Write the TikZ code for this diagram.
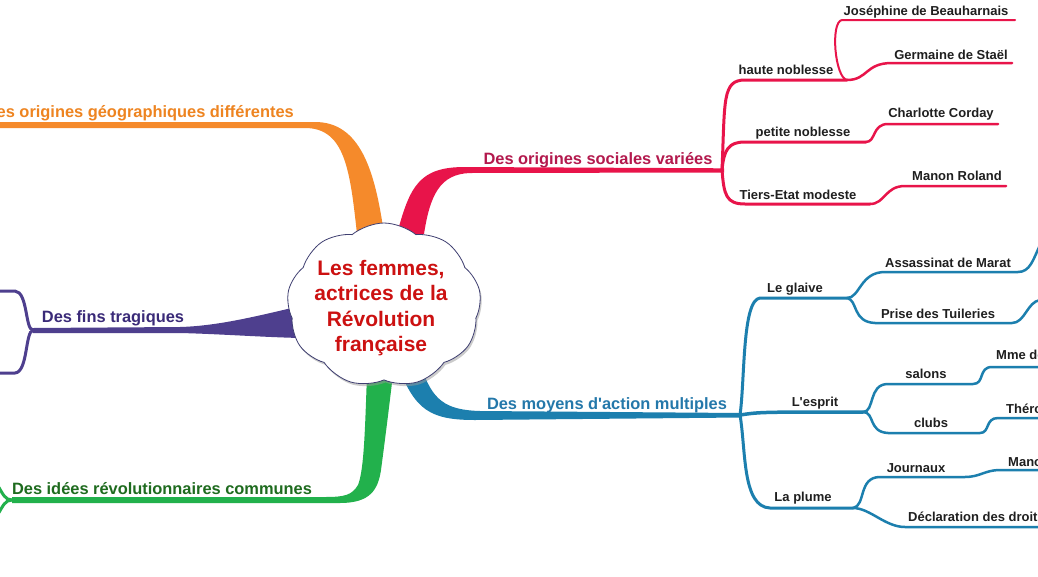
\documentclass[tikz,border=0pt]{standalone}
\usepackage{fontspec}
\setmainfont{Liberation Sans}[Ligatures=TeXOff]
\usetikzlibrary{shapes.symbols,shadows}
\definecolor{corange}{HTML}{F58A2B}
\definecolor{corat}{HTML}{EE8420}
\definecolor{cred}{HTML}{E8144A}
\definecolor{credt}{HTML}{B3194D}
\definecolor{cblue}{HTML}{1C7FAE}
\definecolor{cbluet}{HTML}{2478AA}
\definecolor{cgreen}{HTML}{22B14C}
\definecolor{cgreent}{HTML}{1E6B1E}
\definecolor{cpurple}{HTML}{4E3F8E}
\definecolor{cpurplet}{HTML}{3A2A78}
\definecolor{ccenter}{HTML}{CC1111}
\definecolor{cloudline}{HTML}{3E3E70}
\begin{document}
\begin{tikzpicture}[x=1pt,y=-1pt,
  lone/.style={font=\fontsize{16.4}{18}\selectfont\bfseries, inner sep=0pt, anchor=base},
  ltwo/.style={font=\fontsize{13}{15}\selectfont\bfseries, text=black!88, inner sep=0pt, anchor=base},
  redline/.style={draw=cred, line width=3pt, line cap=round},
  redthin/.style={draw=cred, line width=2.5pt, line cap=round},
  blueline/.style={draw=cblue, line width=3pt, line cap=round},
  bluethin/.style={draw=cblue, line width=2.5pt, line cap=round},
  purpleline/.style={draw=cpurple, line width=3pt, line cap=round},
  greenline/.style={draw=cgreen, line width=3pt, line cap=round},
  cloudbox/.style={cloud, cloud puffs=9, cloud puff arc=80, aspect=1.17, draw=cloudline, fill=white, line width=0.8pt, minimum width=194pt, minimum height=164pt, inner sep=0pt, drop shadow={shadow xshift=1.5pt, shadow yshift=-2.5pt, fill=black!40}},
]
\useasboundingbox (0,0) rectangle (1038,576);
\clip (0,0) rectangle (1038,576);
\fill[white] (0,0) rectangle (1038,576);

% junction coordinates
\coordinate (rj) at (722,170);
\coordinate (hn) at (847,80);
\coordinate (pn) at (866,142);
\coordinate (tn) at (870,204);
\coordinate (bj) at (740,415);
\coordinate (gl) at (847,298);
\coordinate (es) at (863,412);
\coordinate (lp) at (853,508);
\coordinate (pj) at (33,330);
\coordinate (gj) at (12,500);

% main branches
\fill[corange] (357,234) .. controls (350,170) and (345,128) .. (305,128) -- (-2,128) -- (-2,122) -- (315,122) .. controls (360,122) and (375,170) .. (384,234) -- cycle;
\fill[cred] (397,234) .. controls (410,185) and (420,167) .. (465,167) -- (724,168.3) -- (724,172.5) -- (470,173) .. controls (440,174) and (430,195) .. (424,234) -- cycle;
\fill[cblue] (398,366) .. controls (415,410) and (430,420) .. (475,420) -- (742,417.5) -- (742,413) -- (480,411) .. controls (445,410) and (432,400) .. (421,366) -- cycle;
\fill[cpurple] (300,306) .. controls (250,318) and (215,326) .. (180,327) -- (33,328) -- (33,333) -- (180,333) .. controls (220,334) and (260,337) .. (300,338) -- cycle;
\fill[cgreen] (367,374) .. controls (365,430) and (364,470) .. (358,485) .. controls (352,495) and (345,497) .. (325,497) -- (12,497) -- (12,503) -- (340,503) .. controls (370,503) and (378,490) .. (381,470) .. controls (385,440) and (390,400) .. (393,374) -- cycle;

% red sub-branches
\draw[redline] (rj) .. controls (725,100) and (722,80) .. (745,80) -- (hn);
\draw[redline] (rj) .. controls (724,150) and (728,142) .. (745,142) -- (pn);
\draw[redline] (rj) .. controls (724,195) and (726,204) .. (745,204) -- (tn);
\coordinate (jo) at (1015,20);
\coordinate (ge) at (1012,63);
\coordinate (ch) at (998,124);
\coordinate (mr) at (1006,186);
\draw[cred, line width=2pt, line cap=round] (hn) .. controls (835,78) and (830,22) .. (842,20) -- (jo);
\draw[redthin] (hn) .. controls (868,80) and (865,63) .. (892,63) -- (ge);
\draw[redthin] (pn) .. controls (876,142) and (872,124) .. (888,124) -- (ch);
\draw[redthin] (tn) .. controls (885,204) and (885,186) .. (905,186) -- (mr);

% blue sub-branches
\coordinate (as) at (1040,245);
\coordinate (pt) at (1040,300);
\coordinate (mm) at (1040,367);
\coordinate (th) at (1040,418);
\coordinate (mn) at (1040,470);
\coordinate (dd) at (1040,527);
\draw[blueline] (bj) .. controls (745,380) and (742,300) .. (760,298) -- (gl);
\draw[blueline, line width=3.5pt] (bj) .. controls (760,412) .. (es);
\draw[blueline] (bj) .. controls (746,450) and (742,507) .. (770,508) -- (lp);
\draw[bluethin] (gl) .. controls (860,298) and (860,272) .. (885,272) -- (1018,272) .. controls (1030,272) and (1033,260) .. (as);
\draw[bluethin] (gl) .. controls (858,300) and (852,322) .. (875,323) -- (1012,323) .. controls (1025,323) and (1027,302) .. (pt);
\draw[bluethin] (es) .. controls (875,412) and (868,384) .. (888,384) -- (973,384) .. controls (985,384) and (978,367) .. (992,367) -- (mm);
\draw[bluethin] (es) .. controls (875,412) and (868,432) .. (888,433) -- (980,433) .. controls (990,433) and (985,418) .. (998,418) -- (th);
\draw[bluethin] (lp) .. controls (866,506) and (858,477) .. (880,477) -- (965,477) .. controls (980,477) and (985,470) .. (1000,470) -- (mn);
\draw[bluethin] (lp) .. controls (870,508) and (885,527) .. (905,527) -- (dd);

% purple and green forks
\coordinate (pu) at (-3,291);
\coordinate (pd) at (-3,373);
\draw[purpleline] (pj) .. controls (25,330) and (28,292) .. (15,291) -- (pu);
\draw[purpleline] (pj) .. controls (25,332) and (28,372) .. (15,373) -- (pd);
\coordinate (gu) at (-2,486);
\coordinate (gd) at (-2,514);
\draw[greenline] (gj) .. controls (5,500) and (3,494) .. (gu);
\draw[greenline] (gj) .. controls (5,500) and (3,506) .. (gd);

% central cloud
\node[cloudbox] (cloudc) at (384,305) {};
\node[font=\fontsize{21}{25.5}\selectfont\bfseries, text=ccenter, align=center, inner sep=0pt] (title) at (381,308) {Les femmes,\\actrices de la\\Révolution\\française};

% level 1 labels
\node[lone, text=corat, anchor=base east] (lgeo) at (294,117) {Des origines géographiques différentes};
\node[lone, text=credt] (lsoc) at (598,164) {Des origines sociales variées};
\node[lone, text=cpurplet] (lfin) at (113,322) {Des fins tragiques};
\node[lone, text=cbluet] (lmoy) at (607,409) {Des moyens d'action multiples};
\node[lone, text=cgreent] (lide) at (162,494) {Des idées révolutionnaires communes};

% level 2/3 labels red
\node[ltwo] (lhn) at (786,74) {haute noblesse};
\node[ltwo] (lpn) at (803,136) {petite noblesse};
\node[ltwo] (ltn) at (798,199) {Tiers-Etat modeste};
\node[ltwo] (ljo) at (926,15) {Joséphine de Beauharnais};
\node[ltwo] (lge) at (951,59) {Germaine de Staël};
\node[ltwo] (lch) at (941,117) {Charlotte Corday};
\node[ltwo] (lmr) at (957,180) {Manon Roland};

% level 2/3 labels blue
\node[ltwo] (lgl) at (795,292) {Le glaive};
\node[ltwo] (las) at (948,267) {Assassinat de Marat};
\node[ltwo] (lpt) at (938,318) {Prise des Tuileries};
\node[ltwo] (les) at (815,406) {L'esprit};
\node[ltwo] (lsa) at (926,378) {salons};
\node[ltwo] (lcl) at (931,427) {clubs};
\node[ltwo] (llp) at (803,501) {La plume};
\node[ltwo] (ljn) at (916,472) {Journaux};
\node[ltwo, anchor=base west] (lmm) at (996,359) {Mme de};
\node[ltwo, anchor=base west] (lth) at (1006,413) {Théroigne};
\node[ltwo, anchor=base west] (lmn) at (1008,466) {Manon};
\node[ltwo, anchor=base west] (ldd) at (908,521) {Déclaration des droits};
\end{tikzpicture}
\end{document}
